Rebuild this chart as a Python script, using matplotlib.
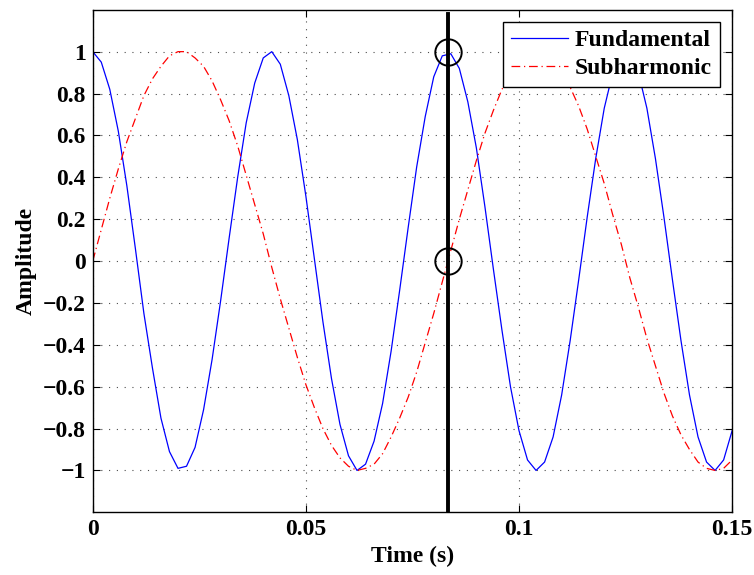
import numpy as np
import matplotlib
matplotlib.use('Agg')
import matplotlib.pyplot as plt

# sampled signals (fs = 500 Hz, 0 .. 0.15 s)
time = np.linspace(0, 0.15, 76)

fundamental = [
    1.00, 0.95, 0.82, 0.62, 0.36, 0.06, -0.25, -0.51, -0.75, -0.91,
    -0.99, -0.98, -0.89, -0.71, -0.47, -0.19, 0.11, 0.40, 0.66, 0.85,
    0.97, 1.00, 0.94, 0.79, 0.58, 0.31, 0.01, -0.29, -0.56, -0.78,
    -0.93, -1.00, -0.97, -0.86, -0.68, -0.43, -0.14, 0.16, 0.45, 0.69,
    0.88, 0.98, 0.99, 0.92, 0.76, 0.54, 0.26, -0.04, -0.33, -0.60,
    -0.81, -0.95, -1.00, -0.96, -0.84, -0.64, -0.38, -0.09, 0.21, 0.49,
    0.73, 0.90, 0.99, 0.99, 0.90, 0.73, 0.49, 0.21, -0.09, -0.38,
    -0.64, -0.84, -0.96, -1.00, -0.95, -0.81,
]

subharmonic = [
    0.00, 0.15, 0.30, 0.44, 0.57, 0.68, 0.79, 0.87, 0.93, 0.98,
    1.00, 1.00, 0.97, 0.93, 0.86, 0.77, 0.67, 0.55, 0.41, 0.27,
    0.13, -0.03, -0.18, -0.32, -0.46, -0.59, -0.70, -0.80, -0.88, -0.94,
    -0.98, -1.00, -0.99, -0.97, -0.92, -0.84, -0.75, -0.65, -0.53, -0.39,
    -0.25, -0.10, 0.05, 0.20, 0.34, 0.48, 0.61, 0.72, 0.82, 0.89,
    0.95, 0.99, 1.00, 0.99, 0.96, 0.90, 0.83, 0.74, 0.63, 0.50,
    0.37, 0.22, 0.08, -0.08, -0.22, -0.37, -0.50, -0.63, -0.74, -0.83,
    -0.90, -0.96, -0.99, -1.00, -0.99, -0.95,
]

# marked instant (one subharmonic period)
mark_t = 1 / 12
mark_vals = [1.0, 0.0]

xticks = [0, 0.05, 0.1, 0.15]
xticklabels = ['0', '0.05', '0.1', '0.15']
yticks = [-1, -0.8, -0.6, -0.4, -0.2, 0, 0.2, 0.4, 0.6, 0.8, 1]
yticklabels = ['\u22121', '\u22120.8', '\u22120.6', '\u22120.4', '\u22120.2',
               '0', '0.2', '0.4', '0.6', '0.8', '1']

plt.rcParams['font.family'] = ['Liberation Serif', 'DejaVu Serif']
plt.rcParams['font.weight'] = 'bold'

fig = plt.figure(figsize=(7.54, 5.75), dpi=100)
ax = fig.add_axes([0.123, 0.109, 0.848, 0.874])

ax.plot(time, fundamental, '-', color='#0000ff', lw=0.9, label='Fundamental')
ax.plot(time, subharmonic, color='#ff0000', lw=0.9, label='Subharmonic',
        linestyle=(0, (7, 3, 1, 3)))

ax.plot([mark_t, mark_t], [-1.2, 1.18], '-', color='black', lw=2.8)
ax.plot([mark_t] * len(mark_vals), mark_vals, 'o', mfc='none', mec='black',
        ms=19, mew=1.4)

ax.set_xlim(0, 0.15)
ax.set_ylim(-1.2, 1.2)
ax.set_xticks(xticks)
ax.set_xticklabels(xticklabels)
ax.set_yticks(yticks)
ax.set_yticklabels(yticklabels)
ax.tick_params(direction='in', top=True, right=True, length=5, width=0.8,
               labelsize=17, pad=5)
for lab in ax.get_xticklabels() + ax.get_yticklabels():
    lab.set_fontweight('bold')
for sp in ax.spines.values():
    sp.set_linewidth(1.0)

ax.grid(True, linestyle=(0, (1, 6)), color='black', lw=0.8, alpha=0.7)

ax.set_xlabel('Time (s)', fontsize=17, fontweight='bold', labelpad=4)
ax.set_ylabel('Amplitude', fontsize=17, fontweight='bold', labelpad=4)

leg = ax.legend(loc='upper right', fontsize=17, fancybox=False,
                edgecolor='black', framealpha=1, handlelength=2.4,
                borderaxespad=0.5, labelspacing=0.25, handletextpad=0.3,
                borderpad=0.35)
leg.get_frame().set_linewidth(1.0)
for t in leg.get_texts():
    t.set_fontweight('bold')

fig.savefig('out.png', dpi=100)
